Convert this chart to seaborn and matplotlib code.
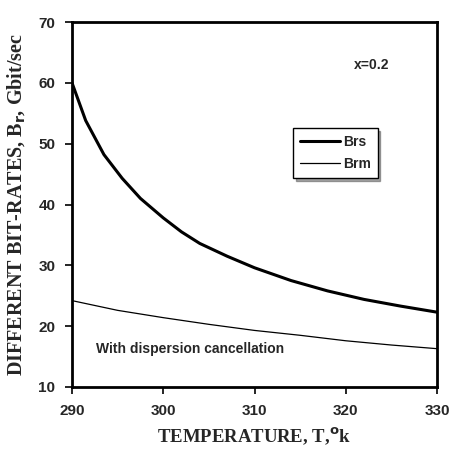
import matplotlib
matplotlib.use("Agg")
import matplotlib.pyplot as plt
import seaborn as sns
import pandas as pd

temp_brs = [290, 291.5, 293.5, 295.5, 297.5, 300, 302, 304, 307, 310, 314, 318, 322, 326, 330]
brs = [60.0, 53.8, 48.2, 44.3, 41.0, 37.8, 35.5, 33.6, 31.5, 29.6, 27.5, 25.8, 24.4, 23.3, 22.3]
temp_brm = [290, 295, 300, 305, 310, 315, 320, 325, 330]
brm = [24.2, 22.6, 21.4, 20.3, 19.3, 18.5, 17.6, 16.9, 16.3]
xticks = [290, 300, 310, 320, 330]
yticks = [10, 20, 30, 40, 50, 60, 70]

sns.set_theme(style="white")
plt.rcParams['font.family'] = ['Liberation Sans', 'DejaVu Sans']

df_brs = pd.DataFrame({"T": temp_brs, "B": brs})
df_brm = pd.DataFrame({"T": temp_brm, "B": brm})

fig = plt.figure(figsize=(4.54, 4.5), dpi=100)
ax = fig.add_axes([72/454, 63/450, 365/454, 365/450])

sns.lineplot(data=df_brs, x="T", y="B", ax=ax, color="black", lw=2.2, label="Brs")
sns.lineplot(data=df_brm, x="T", y="B", ax=ax, color="black", lw=0.9, label="Brm")

ax.set_xlim(290, 330)
ax.set_ylim(10, 70)
ax.set_xticks(xticks)
ax.set_yticks(yticks)
ax.tick_params(axis="both", direction="out", length=5, width=1.2, color="black",
               labelsize=11, bottom=True, left=True, pad=7)
for lab in ax.get_xticklabels() + ax.get_yticklabels():
    lab.set_fontweight("bold")
for s in ax.spines.values():
    s.set_linewidth(2)
    s.set_color("black")

ax.set_xlabel("TEMPERATURE, T,$^{\\mathbf{o}}$k", family="Liberation Serif",
              fontweight="bold", fontsize=13.5, labelpad=5)
ax.set_ylabel("DIFFERENT BIT-RATES, B$_{\\mathbf{r}}$, Gbit/sec", family="Liberation Serif",
              fontweight="bold", fontsize=14.5, labelpad=8)

ax.text(0.773, 0.882, "x=0.2", transform=ax.transAxes, fontsize=10,
        fontweight="bold", va="center")
ax.text(0.065, 0.104, "With dispersion cancellation", transform=ax.transAxes,
        fontsize=10, fontweight="bold", va="center")

leg = ax.legend(loc="upper left", bbox_to_anchor=(0.605, 0.71), frameon=True,
                fancybox=False, shadow=True, fontsize=10, handlelength=2.9,
                borderpad=0.5, labelspacing=0.6, handletextpad=0.2,
                borderaxespad=0)
leg.get_frame().set_edgecolor("black")
leg.get_frame().set_linewidth(1)
for t in leg.get_texts():
    t.set_fontweight("bold")

fig.savefig("out.png", dpi=100)
